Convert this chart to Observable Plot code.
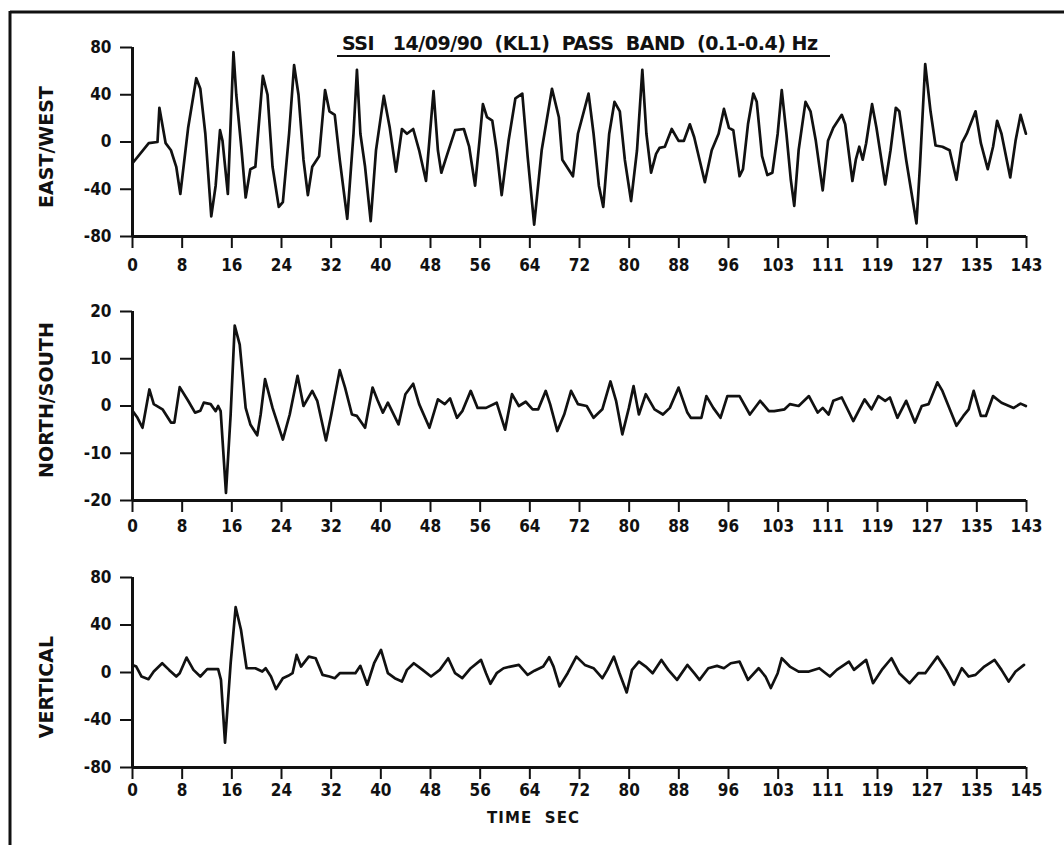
<!DOCTYPE html>
<html>
<head>
<meta charset="utf-8">
<script src="https://cdn.jsdelivr.net/npm/d3@7"></script>
<script src="https://cdn.jsdelivr.net/npm/@observablehq/plot@0.6"></script>
<style>
  html, body { margin: 0; padding: 0; background: #fff; }
  #chart { position: relative; width: 1064px; height: 845px; background: #fff; overflow: hidden; }
  #chart svg.panel { position: absolute; left: 0; }
  #overlay { position: absolute; left: 0; top: 0; pointer-events: none; }
  .lbl { font-family: "DejaVu Sans", sans-serif; font-weight: bold; fill: #111; }
</style>
</head>
<body>
<div id="chart"></div>
<script>
// Time axis: 18 equal divisions, labelled as on the original record sheet
const ewTickLabels = ["0","8","16","24","32","40","48","56","64","72","80","88","96","103","111","119","127","135","143"];
const nsTickLabels = ["0","8","16","24","32","40","48","56","64","72","80","88","96","103","111","119","127","135","143"];
const vtTickLabels = ["0","8","16","24","32","40","48","56","64","72","80","88","96","103","111","119","127","135","145"];

const ewYTicks = [-80, -40, 0, 40, 80];
const nsYTicks = [-20, -10, 0, 10, 20];
const vtYTicks = [-80, -40, 0, 40, 80];

// East/West component (time in s, amplitude)
const ewTime = [0,2.6,4.0,4.3,5.3,6.15,7.0,7.65,8.9,10.2,10.85,11.65,12.6,13.3,14.0,14.4,15.25,16.15,16.6,17.45,18.1,18.85,19.65,20.85,21.6,22.4,23.4,24.05,25.05,25.85,26.55,27.35,28.05,28.75,29.85,30.8,31.5,32.35,33.15,34.35,35.35,35.9,36.45,37.2,38.1,38.95,40.2,41.15,42.15,43.1,43.9,44.9,45.85,46.95,48.15,48.85,49.4,50.25,51.6,53.0,53.85,54.8,55.5,56.05,56.7,57.55,58.25,59.05,60.15,61.25,62.35,63.2,64.25,65.45,67.1,68.2,68.75,70.45,71.25,72.95,73.75,74.6,75.3,76.25,77.1,77.95,78.75,79.75,80.7,81.55,82.2,82.95,83.75,84.3,85.15,86.25,87.35,88.2,89.15,89.85,90.7,91.55,92.65,93.75,94.6,95.4,96.1,97.1,97.65,98.45,99.3,99.85,100.7,101.55,102.35,103.2,103.85,104.6,105.3,105.85,106.55,107.65,108.45,109.3,110.4,111.25,112.1,113.45,114.0,115.15,115.7,116.25,116.8,117.35,118.3,119.0,120.4,121.25,122.1,122.65,123.75,125.4,125.95,126.8,127.65,128.45,129.55,130.7,131.8,132.65,133.45,134.85,135.7,136.8,137.65,138.3,139.0,140.4,141.25,142.05,142.9];
const ewValue = [-18,-1,0,29,-1,-7,-21,-44,12,54,45,7,-63,-37,10,1,-44,76,40,-7,-47,-23,-21,56,40,-21,-55,-51,7,65,40,-15,-45,-21,-12,44,26,23,-15,-65,7,61,7,-21,-67,-7,39,12,-25,11,7,11,-7,-33,43,-7,-26,-12,10,11,-4,-37,1,32,21,18,-7,-45,1,37,41,-12,-70,-7,45,21,-15,-29,7,41,7,-37,-55,7,34,26,-15,-50,-7,61,7,-26,-10,-5,-4,11,1,1,15,4,-15,-34,-7,7,28,12,10,-29,-23,15,41,34,-12,-28,-26,7,44,7,-32,-54,-7,34,26,1,-41,1,12,23,15,-33,-15,-4,-15,-1,32,12,-36,-7,29,26,-15,-69,-21,66,26,-3,-4,-7,-32,-1,7,26,-1,-23,-4,18,7,-30,1,23,7];

// North/South component
const nsTime = [0,0.8,1.6,2.7,3.4,4.8,6.15,6.7,7.55,8.9,10.0,10.85,11.4,12.5,13.3,13.7,14.1,14.95,15.7,16.35,17.15,18.1,18.85,19.95,20.5,21.2,22.4,24.05,25.15,26.4,27.35,28.75,29.55,30.95,31.8,33.15,34.0,35.1,35.9,37.2,38.4,39.2,40.05,40.85,42.55,43.65,44.9,45.85,47.5,48.85,49.95,50.8,51.9,52.75,54.1,55.2,56.55,58.25,59.6,60.7,61.8,62.9,64.0,64.9,66.1,66.8,67.95,69.05,70.15,71.25,72.65,73.75,75.15,76.45,77.35,78.35,79.4,80.15,81.0,82.1,83.5,84.85,85.95,87.35,88.75,89.3,91.0,91.8,92.9,94.05,95.15,97.1,98.75,100.4,101.8,102.65,104.3,105.15,106.55,108.2,109.6,110.4,111.35,112.1,113.45,115.3,117.1,118.2,119.3,120.4,121.15,122.35,123.75,125.15,126.25,127.35,128.75,129.55,131.8,132.9,133.75,134.55,135.7,136.5,137.65,139.0,140.95,142.05,142.9];
const nsValue = [-1,-2.5,-4.6,3.5,0.4,-0.7,-3.5,-3.5,4,1.1,-1.4,-1,0.7,0.4,-1.1,0,-1.1,-18.4,-1.8,17,13,-0.4,-3.9,-6.2,-1.8,5.7,-0.4,-7.1,-1.8,6.4,0,3.2,1.1,-7.3,-1.8,7.6,3.9,-1.8,-2.1,-4.6,3.9,1.2,-1.4,0.7,-3.9,2.5,4.7,0.4,-4.6,1.4,0.4,1.6,-2.5,-1.1,3.2,-0.4,-0.4,0.7,-5,2.5,0,0.9,-0.7,-0.7,3.2,0.4,-5.3,-1.8,3.2,0.4,0,-2.5,-0.7,5.2,1.1,-6,-0.4,4.2,-1.8,2.5,-0.7,-1.8,-0.4,3.9,-1.4,-2.5,-2.5,2.1,-0.4,-2.5,2.1,2.1,-1.8,1.1,-1.1,-1.1,-0.7,0.4,0,2.1,-1.4,-0.4,-1.8,1.1,1.8,-3.2,1.4,-0.7,2.1,1.1,1.8,-2.5,1.1,-3.5,0,0.4,5,3.2,-4.2,-2.1,-0.7,3.2,-2.1,-2.1,2.1,0.7,-0.4,0.5,0];

// Vertical component
const vtTime = [0,0.6,1.45,2.55,3.4,4.75,5.85,7.0,7.55,8.65,9.75,10.85,11.95,13.7,14.15,14.8,15.7,16.5,17.35,18.25,19.65,20.75,21.3,22.15,22.95,24.05,24.9,25.6,26.25,26.95,28.2,29.3,30.4,31.5,32.35,33.15,35.65,36.45,37.55,38.65,39.75,40.85,41.95,43.1,43.9,45.0,46.4,47.75,49.15,50.5,51.6,52.75,54.1,55.75,56.55,57.25,58.25,59.35,60.45,61.8,63.2,64.3,65.7,66.65,67.35,68.3,69.6,71.0,72.35,73.75,75.15,75.95,77.0,77.9,79.05,79.9,81.0,82.1,83.2,84.6,85.7,87.1,88.75,89.85,90.7,92.1,93.5,94.6,95.7,97.1,98.45,100.15,101.25,102.1,103.2,103.85,105.15,106.55,108.2,109.85,111.55,112.65,114.6,115.4,117.35,118.45,119.85,121.4,122.65,124.3,125.7,126.8,128.75,130.15,131.4,132.65,133.75,134.85,136.25,137.9,139.0,140.15,141.25,142.6];
const vtValue = [6.4,5,-3.4,-5.6,0.8,7.8,2.2,-3.4,-0.6,12.6,2.2,-3.4,2.8,2.8,-6.2,-59,7.8,55,36,3.6,3.6,0.8,3.6,-3.4,-14,-4.8,-2.8,-0.6,14.8,5,13.4,12,-2,-3.4,-4.8,-0.6,-0.6,5.6,-10.3,7.8,19,-0.6,-4.8,-7.6,2.2,7.8,2.2,-3.4,2.2,12,-0.6,-4.8,3.6,10.6,-0.6,-9.5,-0.6,3.6,5,6.4,-2,1.5,5,12.9,5,-11.7,-0.6,13.4,6.4,3.6,-4.8,2.2,13.4,-0.6,-16.8,2.2,9.2,5,-0.6,10.6,2.2,-6.2,6.4,-0.6,-6.2,3.6,5.6,3.6,7.8,9.2,-6.2,3.6,-3.4,-13.1,-0.6,12,5,0.8,0.8,3.6,-3.4,2.2,9.2,2.2,10.6,-9,2.2,12,-0.6,-9,-0.6,-0.6,13.4,2.2,-10.3,3.6,-3.4,-2,5,10.6,2.2,-7.6,0.8,6.4];

const ink = "#111";
const xSpan = 143;
const fontStack = '"DejaVu Sans Condensed", "DejaVu Sans", sans-serif';
const signed = d => (d < 0 ? "-" + Math.abs(d) : String(d));

function seismogram({time, value, yTicks, xLabels, top, marginTop, plotHeight, marginBottom, labelPad}) {
  const rows = time.map((t, i) => ({t, v: value[i]}));
  const pos = xLabels.map((_, i) => i * xSpan / (xLabels.length - 1));
  const yMin = d3.min(yTicks), yMax = d3.max(yTicks);
  const svg = Plot.plot({
    width: 1064,
    height: marginTop + plotHeight + marginBottom,
    marginLeft: 132,
    marginRight: 38,
    marginTop,
    marginBottom,
    style: {background: "transparent", fontFamily: fontStack, fontSize: "17px", fontWeight: "bold", color: ink, overflow: "visible"},
    x: {domain: [0, xSpan]},
    y: {domain: [yMin, yMax]},
    marks: [
      Plot.axisY(yTicks, {tickSize: 12, tickPadding: 9, strokeWidth: 2, tickFormat: signed, label: null}),
      Plot.axisX(pos, {tickSize: 12, tickPadding: labelPad, strokeWidth: 2, tickFormat: d => xLabels[pos.indexOf(d)], label: null}),
      Plot.ruleX([0], {stroke: ink, strokeWidth: 3}),
      Plot.ruleY([yMin], {stroke: ink, strokeWidth: 3}),
      Plot.line(rows, {x: "t", y: "v", stroke: ink, strokeWidth: 2.7, strokeLinejoin: "round", strokeLinecap: "round"})
    ]
  });
  svg.classList.add("panel");
  svg.style.top = top + "px";
  return svg;
}

const chart = document.getElementById("chart");
chart.append(
  seismogram({time: ewTime, value: ewValue, yTicks: ewYTicks, xLabels: ewTickLabels, top: 0, marginTop: 47, plotHeight: 189, marginBottom: 38, labelPad: 10}),
  seismogram({time: nsTime, value: nsValue, yTicks: nsYTicks, xLabels: nsTickLabels, top: 274, marginTop: 37, plotHeight: 189, marginBottom: 36, labelPad: 7}),
  seismogram({time: vtTime, value: vtValue, yTicks: vtYTicks, xLabels: vtTickLabels, top: 536, marginTop: 41, plotHeight: 190, marginBottom: 40, labelPad: 4})
);

// Sheet frame, heading and component labels
const overlay = document.createElement("div");
overlay.innerHTML = `
<svg id="overlay" width="1064" height="845" viewBox="0 0 1064 845">
  <line x1="10" y1="12" x2="1064" y2="12" stroke="${ink}" stroke-width="3"/>
  <line x1="10" y1="11" x2="10" y2="845" stroke="${ink}" stroke-width="3"/>
  <text class="lbl" x="342" y="50" font-size="19" textLength="476" lengthAdjust="spacing" xml:space="preserve" style="white-space:pre">SSI   14/09/90  (KL1)  PASS  BAND  (0.1-0.4) Hz</text>
  <line x1="337" y1="56" x2="830" y2="56" stroke="${ink}" stroke-width="2"/>
  <text class="lbl" font-size="19" text-anchor="middle" transform="translate(53,147) rotate(-90)">EAST/WEST</text>
  <text class="lbl" font-size="19" text-anchor="middle" transform="translate(53,400) rotate(-90)">NORTH/SOUTH</text>
  <text class="lbl" font-size="19" text-anchor="middle" transform="translate(53,687) rotate(-90)">VERTICAL</text>
  <text class="lbl" x="487" y="823" font-size="15" textLength="92" lengthAdjust="spacing" xml:space="preserve" style="white-space:pre">TIME  SEC</text>
</svg>`;
chart.append(overlay.firstElementChild);
</script>
</body>
</html>
